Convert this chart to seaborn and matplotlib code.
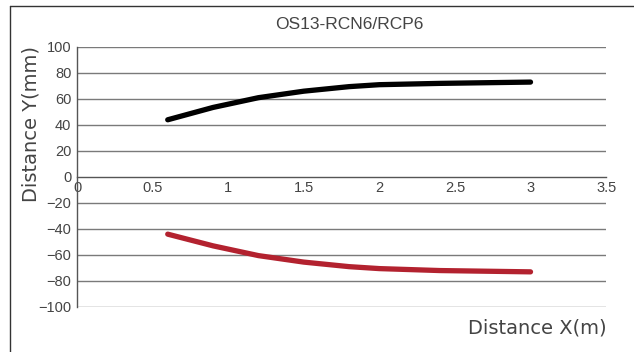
import matplotlib
matplotlib.use("Agg")
import matplotlib.pyplot as plt
import numpy as np
import pandas as pd
import seaborn as sns
from matplotlib.lines import Line2D

# curve readings (distance X in m, distance Y in mm)
dist_x = [0.6, 0.9, 1.2, 1.5, 1.8, 2.0, 2.4, 3.0]
upper_y = [44, 53.5, 61, 66, 69.5, 71, 72, 73]
lower_y = [-44, -53, -60.5, -65.5, -69, -70.5, -72, -73]

x_ticks = [0, 0.5, 1, 1.5, 2, 2.5, 3, 3.5]
x_tick_labels = ['0', '0.5', '1', '1.5', '2', '2.5', '3', '3.5']
y_ticks = list(range(-100, 101, 20))

sns.set_style("white")
plt.rcParams['font.family'] = ['Liberation Sans', 'DejaVu Sans']

df = pd.DataFrame({'x': dist_x + dist_x,
                   'y': upper_y + lower_y,
                   'side': ['upper'] * len(dist_x) + ['lower'] * len(dist_x)})

fig = plt.figure(figsize=(6.34, 3.52), dpi=100)
ax = fig.add_axes([0.1215, 0.128, 0.956 - 0.1215, 0.8665 - 0.128])

grid_col = '#7a7a7a'
for v in y_ticks:
    if v != 0:
        ax.axhline(v, color=grid_col, lw=1.0, zorder=1)

sns.lineplot(data=df, x='x', y='y', hue='side',
             palette={'upper': '#000000', 'lower': '#b3222f'},
             lw=3.8, legend=False, ax=ax, zorder=3,
             solid_capstyle='round', solid_joinstyle='round')

ax.set_xlim(0, 3.5)
ax.set_ylim(-100, 100)

# x axis drawn through y = 0
for s in ['top', 'right']:
    ax.spines[s].set_visible(False)
ax.spines['bottom'].set_position(('data', 0))
ax.spines['bottom'].set_color('#555555')
ax.spines['left'].set_color('#555555')
ax.spines['bottom'].set_linewidth(1.0)
ax.spines['left'].set_linewidth(1.0)

ax.set_xticks(x_ticks)
ax.set_xticklabels(x_tick_labels)
ax.set_yticks(y_ticks)
ax.set_yticklabels([str(v).replace('-', '\u2212') for v in y_ticks])
ax.tick_params(axis='x', direction='in', length=5, width=1, color='#555555',
               labelsize=10.5, labelcolor='#444444', pad=3)
ax.tick_params(axis='y', direction='out', length=3, width=1, color='#555555',
               labelsize=10.5, labelcolor='#444444', pad=1)
ax.set_xlabel('')
ax.set_ylabel('')

fig.text(0.551, 0.929, 'OS13-RCN6/RCP6', ha='center', va='center',
         fontsize=12.5, color='#444444')
fig.text(0.049, 0.648, 'Distance Y(mm)', rotation=90, ha='center', va='center',
         fontsize=14, color='#444444', family='DejaVu Sans')
fig.text(0.957, 0.068, 'Distance X(m)', ha='right', va='center',
         fontsize=14, color='#444444', family='DejaVu Sans')

# outer frame (left and top edges)
fig.add_artist(Line2D([0.0158, 0.0158], [0.0, 0.983], color='#333333', lw=1.0,
                      transform=fig.transFigure))
fig.add_artist(Line2D([0.0158, 1.0], [0.983, 0.983], color='#333333', lw=1.0,
                      transform=fig.transFigure))

fig.savefig('out.png', dpi=100)
